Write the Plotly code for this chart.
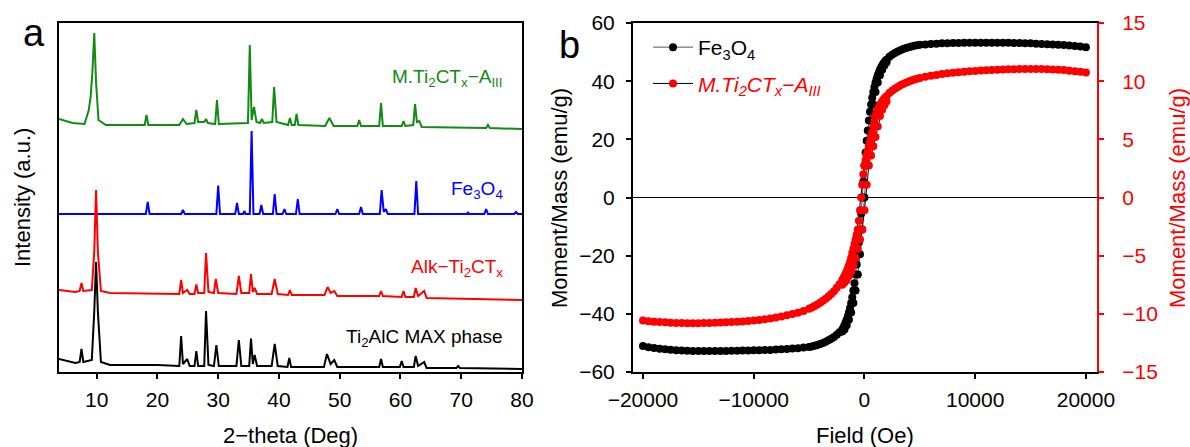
import plotly.graph_objects as go

# ---------------- Panel a: XRD patterns (2-theta in degrees, intensity a.u. offset-stacked) -------------
TT_GREEN = [3.8, 6.0, 8.0, 8.7, 9.0, 9.3, 9.6, 9.9, 10.3, 11.5, 17.9, 18.2, 18.5, 23.6, 24.2, 24.8,
            26.1, 26.4, 26.7, 27.7, 28.0, 28.3, 29.5, 29.8, 30.1, 34.9, 35.2, 35.5, 35.9, 36.3, 36.9,
            37.2, 37.5, 38.9, 39.2, 39.6, 41.5, 41.8, 42.1, 42.6, 42.9, 43.2, 47.6, 48.3, 49.0, 52.9,
            53.2, 53.5, 56.5, 56.8, 57.1, 60.2, 60.5, 60.8, 62.1, 62.4, 62.7, 63.1, 63.5, 74.1, 74.4,
            74.7, 80.0]
I_GREEN = [253, 249, 248, 262, 275, 300, 339, 290, 252, 247, 247, 257, 247, 247, 253, 248,
           249, 262, 250, 250, 253, 249, 248, 272, 248, 249, 327, 252, 265, 250, 249,
           253, 249, 250, 285, 250, 247, 254, 247, 247, 258, 247, 246, 254, 246, 246,
           252, 246, 246, 269, 246, 246, 251, 246, 247, 268, 250, 251, 245, 244, 247,
           244, 243]

TT_BLUE = [3.8, 18.1, 18.4, 18.7, 23.9, 24.2, 24.5, 29.7, 30.0, 30.3, 32.8, 33.1, 33.4, 34.1, 34.3,
           34.5, 35.2, 35.5, 35.8, 36.8, 37.1, 37.4, 39.0, 39.3, 39.6, 40.6, 40.9, 41.2, 42.8, 43.1,
           43.4, 49.3, 49.6, 49.9, 53.2, 53.5, 53.8, 56.6, 56.9, 57.25, 57.6, 57.9, 62.3, 62.6, 62.9,
           70.9, 71.1, 71.3, 73.8, 74.1, 74.4, 78.7, 79.0, 79.3, 80.0]
I_BLUE = [158, 158, 170, 158, 158, 162, 158, 158, 186.5, 158, 158, 169, 158, 158, 161,
          158, 158, 241, 158, 158, 167, 158, 158, 178, 158, 158, 163, 158, 158, 173,
          158, 158, 163, 158, 158, 165, 158, 158, 182, 160, 163, 158, 158, 191, 158,
          158, 159.5, 158, 158, 163, 158, 158, 160, 158, 158]

TT_RED = [3.8, 6.5, 7.2, 7.5, 7.8, 9.2, 9.6, 9.9, 10.2, 10.7, 12.2, 20.0, 23.6, 23.9, 24.2, 24.9,
          25.3, 26.1, 26.4, 26.7, 27.7, 28.0, 28.4, 29.3, 29.6, 30.0, 33.0, 33.4, 33.8, 35.1, 35.4,
          35.7, 36.0, 36.4, 38.8, 39.3, 39.8, 41.5, 41.8, 42.1, 47.5, 48.0, 48.5, 49.1, 49.6, 56.5,
          56.8, 57.1, 60.2, 60.5, 60.8, 62.2, 62.5, 62.9, 63.9, 64.3, 80.0]
I_RED = [82, 80, 81, 89, 81, 82, 120, 182, 120, 81, 79, 78, 78, 92, 79, 82,
         78, 78, 87.5, 79, 79, 119, 80, 79, 93, 79, 78, 96, 79, 79, 98,
         80, 84, 78, 78, 93, 78, 77, 82, 77, 77, 85, 79, 81, 76, 76,
         81, 76, 75, 81, 75, 75, 84, 76, 81, 74, 72]

TT_BLACK = [3.8, 6.5, 7.2, 7.5, 7.8, 9.2, 9.6, 9.9, 10.2, 10.7, 12.2, 20.0, 23.6, 23.9, 24.2, 24.9,
            25.3, 26.1, 26.4, 26.7, 27.7, 28.0, 28.4, 29.3, 29.7, 30.1, 33.0, 33.4, 33.8, 35.1, 35.4,
            35.7, 36.0, 36.4, 38.8, 39.3, 39.8, 41.4, 41.7, 42.0, 47.4, 47.9, 48.5, 49.1, 49.6, 56.5,
            56.8, 57.1, 59.9, 60.2, 60.5, 62.2, 62.5, 62.9, 63.9, 64.3, 69.2, 69.5, 69.8, 80.0]
I_BLACK = [13, 9, 10, 23, 10, 12, 60, 110, 60, 10, 7, 7, 6, 36, 8, 13,
           6, 6, 21, 6, 6, 61, 7, 6, 27, 6, 6, 32, 6, 6, 33.4,
           8, 17, 6, 6, 28, 6, 5, 14, 5, 5, 18, 8, 12, 5, 5,
           13, 5, 5, 11, 5, 5, 16, 6, 10, 4, 4, 6, 4, 3]

XRD_LABELS = ["M.Ti<sub>2</sub>CT<sub>x</sub>\u2212A<sub>III</sub>", "Fe<sub>3</sub>O<sub>4</sub>",
              "Alk\u2212Ti<sub>2</sub>CT<sub>x</sub>", "Ti<sub>2</sub>AlC MAX phase"]
XRD_TICKS = [10, 20, 30, 40, 50, 60, 70, 80]

# ---------------- Panel b: M-H loops -------------
F_DESC = [20000, 19500, 19000, 18500, 18000, 17500, 17000, 16500, 16000, 15500, 15000, 14500, 14000,
          13500, 13000, 12500, 12000, 11500, 11000, 10500, 10000, 9500, 9000, 8500, 8000, 7500, 7000,
          6500, 6000, 5500, 5000,
          4750, 4500, 4250, 4000, 3750, 3500, 3250, 3000, 2750, 2500, 2250,
          2000, 1900, 1800, 1700, 1600, 1500, 1400, 1300, 1200, 1100, 1000, 900, 800, 700, 600, 500,
          400, 300, 200, 100, 0, -100, -200, -300, -400, -500, -600, -700, -800, -900, -1000, -1100,
          -1200, -1300, -1400, -1500, -1600, -1700, -1800, -1900, -2000,
          -2250, -2500, -2750, -3000, -3250, -3500, -3750, -4000, -4250, -4500, -4750,
          -5000, -5500, -6000, -6500, -7000, -7500, -8000, -8500, -9000, -9500, -10000, -10500,
          -11000, -11500, -12000, -12500, -13000, -13500, -14000, -14500, -15000, -15500, -16000,
          -16500, -17000, -17500, -18000, -18500, -19000, -19500, -20000]
M_FE_DESC = [51.7, 51.9, 52.1, 52.3, 52.4, 52.5, 52.6, 52.7, 52.8, 52.9, 53.0, 53.05, 53.1, 53.15,
             53.2, 53.2, 53.25, 53.25, 53.25, 53.25, 53.2, 53.2, 53.2, 53.15, 53.1, 53.05, 53.0, 52.9,
             52.8, 52.65, 52.5,
             52.35, 52.15, 51.95, 51.7, 51.4, 51.05, 50.65, 50.2, 49.7, 49.1, 48.4,
             47.4, 47.0, 46.5, 46.0, 45.4, 44.7, 43.9, 43.0, 42.0, 40.8, 39.5, 38.0, 36.3, 34.3, 32.0,
             29.5, 26.5, 23.0, 19.5, 15.5, 11.0, 5.5, 0.0, -5.5, -11.0, -15.5, -19.5, -23.0, -26.5,
             -29.5, -32.0, -34.3, -36.3, -38.0, -39.5, -40.8, -42.0, -43.0, -43.9, -44.7, -45.4,
             -46.3, -47.2, -48.0, -48.6, -49.1, -49.6, -50.0, -50.4, -50.7, -51.0, -51.2,
             -51.4, -51.6, -51.8, -51.95, -52.1, -52.2, -52.3, -52.4, -52.45, -52.5, -52.55, -52.6,
             -52.65, -52.7, -52.7, -52.75, -52.75, -52.8, -52.8, -52.8, -52.8, -52.75, -52.7, -52.6,
             -52.5, -52.35, -52.2, -52.0, -51.75, -51.45, -51.1]
M_MX_DESC = [10.75, 10.8, 10.85, 10.9, 10.95, 10.98, 11.0, 11.02, 11.04, 11.05, 11.05, 11.05, 11.04,
             11.03, 11.02, 11.0, 10.98, 10.96, 10.94, 10.91, 10.88, 10.85, 10.81, 10.77, 10.72, 10.67,
             10.61, 10.54, 10.46, 10.37, 10.27,
             10.21, 10.14, 10.06, 9.97, 9.87, 9.76, 9.64, 9.5, 9.35, 9.18, 8.99,
             8.7, 8.6, 8.5, 8.38, 8.25, 8.1, 7.93, 7.75, 7.55, 7.3, 7.0, 6.6, 6.1, 5.6, 5.2, 4.8, 4.4,
             4.0, 3.6, 3.2, 2.75, 2.0, 1.1, 0.0, -1.1, -2.0, -2.75, -3.2, -3.6, -4.0, -4.4, -4.8, -5.2,
             -5.55, -5.85, -6.1, -6.35, -6.55, -6.75, -6.95, -7.1,
             -7.45, -7.75, -8.05, -8.3, -8.5, -8.7, -8.88, -9.05, -9.2, -9.33, -9.45,
             -9.57, -9.75, -9.9, -10.02, -10.13, -10.23, -10.32, -10.4, -10.46, -10.52, -10.57, -10.61,
             -10.65, -10.68, -10.71, -10.73, -10.75, -10.77, -10.78, -10.79, -10.8, -10.8, -10.8,
             -10.79, -10.78, -10.76, -10.73, -10.7, -10.67, -10.63, -10.58]
F_ASC = [-2000, -1800, -1600, -1400, -1200, -1000, -800, -600, -400, -200, 0, 200, 400, 600, 800,
         1000, 1200, 1400, 1600, 1800, 2000]
M_FE_ASC = [-46.1, -45.4, -43.9, -42.0, -39.5, -36.3, -32.0, -26.5, -19.5, -11.0, 0.0, 11.0, 19.5,
            26.5, 32.0, 36.3, 39.5, 42.0, 43.9, 45.4, 46.5]
M_MX_ASC = [-7.5, -7.3, -7.1, -6.75, -6.35, -5.85, -5.2, -4.4, -3.6, -2.75, -1.1, 1.1, 2.75, 3.6, 4.4,
            5.2, 6.1, 7.0, 7.55, 7.93, 8.25]
MH_NAMES = ["Fe<sub>3</sub>O<sub>4</sub>",
            "<span style='color:#ff0000'><i>M.Ti<sub>2</sub>CT<sub>x</sub>\u2212A<sub>III</sub></i></span>"]
LEFT_TICKS = [-60, -40, -20, 0, 20, 40, 60]
RIGHT_TICKS = [-15, -10, -5, 0, 5, 10, 15]
FIELD_TICKS = [-20000, -10000, 0, 10000, 20000]
FIELD_TICKTEXT = ["\u221220000", "\u221210000", "0", "10000", "20000"]

W, H = 1190, 447
FONT = "Liberation Sans, Arial, sans-serif"
RED = "#ff0000"

fig = go.Figure()

# panel a traces
for xs, ys, col in [(TT_GREEN, I_GREEN, "#138a13"), (TT_BLUE, I_BLUE, "#0000ff"),
                    (TT_RED, I_RED, RED), (TT_BLACK, I_BLACK, "#000000")]:
    fig.add_trace(go.Scatter(x=xs, y=ys, mode="lines", line=dict(color=col, width=2),
                             xaxis="x", yaxis="y", showlegend=False, hoverinfo="skip"))

# panel b traces
fig.add_trace(go.Scatter(x=F_DESC + [None] + F_ASC, y=M_FE_DESC + [None] + M_FE_ASC,
                         mode="lines+markers", name=MH_NAMES[0],
                         line=dict(color="#555555", width=1),
                         marker=dict(color="#000000", size=8),
                         xaxis="x2", yaxis="y2", legendgroup="g1"))
fig.add_trace(go.Scatter(x=F_DESC + [None] + F_ASC, y=M_MX_DESC + [None] + M_MX_ASC,
                         mode="lines+markers", name=MH_NAMES[1],
                         line=dict(color="#000000", width=1),
                         marker=dict(color=RED, size=8),
                         xaxis="x2", yaxis="y3", legendgroup="g2"))

xa_dom = [59 / W, 522 / W]
xb_dom = [633 / W, 1097 / W]
y_dom = [1 - 372 / H, 1 - 23 / H]

TS = 21
tickfont = dict(family=FONT, size=TS, color="black")
common = dict(showgrid=False, zeroline=False, linewidth=2, linecolor="black", ticks="outside",
              ticklen=5, tickwidth=2, tickcolor="black", tickfont=tickfont, automargin=False,
              ticklabelstandoff=3)

fig.update_layout(
    template="simple_white",
    width=W, height=H, margin=dict(l=0, r=0, t=0, b=0, autoexpand=False),
    paper_bgcolor="white", plot_bgcolor="white",
    font=dict(family=FONT, size=TS, color="black"),
    xaxis=dict(domain=xa_dom, anchor="y", range=[3.8, 80], tickvals=XRD_TICKS, showline=True,
               mirror=True, **common),
    yaxis=dict(domain=y_dom, anchor="x", range=[0, 349], showline=True, mirror=True,
               showticklabels=False, showgrid=False, zeroline=False, linewidth=2,
               linecolor="black", ticks="", automargin=False),
    xaxis2=dict(domain=xb_dom, anchor="y2", range=[-20900, 21000], tickvals=FIELD_TICKS,
                ticktext=FIELD_TICKTEXT, showline=True, mirror=True, **common),
    yaxis2=dict(domain=y_dom, anchor="x2", range=[-60, 60], tickvals=LEFT_TICKS, showline=True,
                showgrid=False, zeroline=True, zerolinecolor="black", zerolinewidth=1,
                linewidth=2, linecolor="black", ticks="outside", ticklen=5, tickwidth=2,
                tickcolor="black", tickfont=tickfont, automargin=False, ticklabelstandoff=7),
    yaxis3=dict(overlaying="y2", anchor="x2", side="right", range=[-15, 15], tickvals=RIGHT_TICKS,
                showline=True, showgrid=False, zeroline=False, linewidth=2, linecolor=RED,
                ticks="outside", ticklen=5, tickwidth=2, tickcolor=RED, automargin=False,
                ticklabelstandoff=14, tickfont=dict(family=FONT, size=TS, color=RED)),
    legend=dict(x=648 / W, y=1 - 27 / H, xanchor="left", yanchor="top", bgcolor="rgba(0,0,0,0)",
                font=dict(family=FONT, size=21, color="black"), traceorder="grouped",
                tracegroupgap=6, itemwidth=40),
)

ann = []
# XRD labels
for txt, col, yc in zip(XRD_LABELS, ["#138a13", "#0000ff", RED, "#000000"], [78, 190, 268, 338]):
    ann.append(dict(text=txt, x=505 / W, y=1 - yc / H, xref="paper", yref="paper",
                    xanchor="right", yanchor="middle", showarrow=False,
                    font=dict(family=FONT, size=19, color=col)))
# panel letters
ann.append(dict(text="a", x=34 / W, y=1 - 33 / H, xref="paper", yref="paper", showarrow=False,
                xanchor="center", yanchor="middle", font=dict(family=FONT, size=38)))
ann.append(dict(text="b", x=569 / W, y=1 - 45 / H, xref="paper", yref="paper", showarrow=False,
                xanchor="center", yanchor="middle", font=dict(family=FONT, size=38)))
# axis titles
ann.append(dict(text="2\u2212theta (Deg)", x=290 / W, y=1 - 435 / H, xref="paper", yref="paper",
                showarrow=False, xanchor="center", yanchor="middle", font=dict(family=FONT, size=22)))
ann.append(dict(text="Intensity (a.u.)", x=22 / W, y=1 - 198 / H, xref="paper", yref="paper",
                showarrow=False, textangle=-90, xanchor="center", yanchor="middle",
                font=dict(family=FONT, size=22)))
ann.append(dict(text="Field (Oe)", x=865 / W, y=1 - 435 / H, xref="paper", yref="paper",
                showarrow=False, xanchor="center", yanchor="middle", font=dict(family=FONT, size=22)))
ann.append(dict(text="Moment/Mass (emu/g)", x=559 / W, y=1 - 198 / H, xref="paper", yref="paper",
                showarrow=False, textangle=-90, xanchor="center", yanchor="middle",
                font=dict(family=FONT, size=22)))
ann.append(dict(text="Moment/Mass (emu/g)", x=1177 / W, y=1 - 198 / H, xref="paper", yref="paper",
                showarrow=False, textangle=-90, xanchor="center", yanchor="middle",
                font=dict(family=FONT, size=22, color=RED)))
fig.update_layout(annotations=ann)

fig.write_html("out.html", config={"displayModeBar": False},
               post_script="document.body.style.margin='0px';")
